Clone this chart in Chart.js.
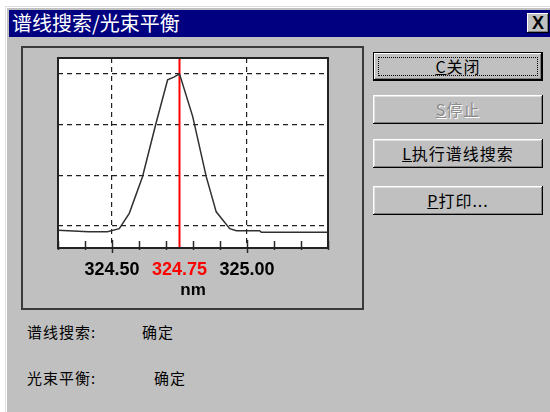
<!DOCTYPE html>
<html><head><meta charset="utf-8">
<script src="https://cdn.jsdelivr.net/npm/chart.js@4"></script>
<style>
html,body{margin:0;padding:0;background:#fff;width:550px;height:412px;overflow:hidden;font-family:"Noto Sans CJK SC","Noto Sans",sans-serif;}
.abs{position:absolute;}
#dlg{left:5px;top:6px;width:560px;height:420px;background:#c0c0c0;box-shadow:inset 1px 1px #dfdfdf, inset 2px 2px #ffffff;}
#title{left:9px;top:10px;width:560px;height:27px;background:#000080;color:#fff;font-size:20px;line-height:26px;padding-left:3px;box-sizing:border-box;}
#close{left:527px;top:13px;width:22px;height:20px;background:#c0c0c0;box-shadow:inset -1px -1px #000, inset 1px 1px #fff, inset -2px -2px #808080;font:bold 18px "Liberation Sans",sans-serif;text-align:center;line-height:20px;color:#000;}
#group{left:21px;top:46px;width:343px;height:264px;box-sizing:border-box;border:2px solid #3a3a3a;}
.btn{left:373px;width:170px;height:29px;box-sizing:border-box;background:#c0c0c0;box-shadow:inset -1px -1px #000, inset 1px 1px #fff, inset -2px -2px #808080, inset 2px 2px #dfdfdf;font-size:16px;letter-spacing:1px;text-align:center;line-height:29px;color:#000;}
.btn u{text-decoration:underline;}
#b1{top:52px;border:1px solid #000;box-shadow:inset -1px -1px #000, inset 1px 1px #fff, inset -2px -2px #808080;line-height:26px;}
#b1 .focus{position:absolute;left:4px;top:4px;right:4px;bottom:4px;border:1px dotted #000;}
#b2{top:95px;color:#8a8a8a;text-shadow:1px 1px #fff;}
#b3{top:139px;}
#b4{top:186px;}
.lbl{font-size:15px;letter-spacing:1px;color:#000;line-height:20px;}
canvas{position:absolute;left:0;top:0;}
</style></head>
<body>
<div id="dlg" class="abs"></div>
<div id="title" class="abs">谱线搜索/光束平衡</div>
<div id="close" class="abs">X</div>
<div id="group" class="abs"></div>
<div id="b1" class="abs btn"><span class="focus"></span><u>C</u>关闭</div>
<div id="b2" class="abs btn"><u>S</u>停止</div>
<div id="b3" class="abs btn"><u>L</u>执行谱线搜索</div>
<div id="b4" class="abs btn"><u>P</u>打印...</div>
<div class="abs lbl" style="left:27px;top:322px;">谱线搜索:</div>
<div class="abs lbl" style="left:142px;top:322px;">确定</div>
<div class="abs lbl" style="left:27px;top:368px;">光束平衡:</div>
<div class="abs lbl" style="left:154px;top:368px;">确定</div>
<canvas id="c" width="550" height="412"></canvas>
<script>
const wavelengthsNm = [324.300, 324.413, 324.483, 324.527, 324.564, 324.613, 324.663, 324.706, 324.731, 324.750, 324.799, 324.849, 324.886, 324.936, 324.961, 325.047, 325.053, 325.300];
const signalValues  = [-0.08, -0.11, -0.11, -0.05, 0.25, 0.97, 2.02, 2.87, 2.93, 2.99, 2.15, 0.97, 0.28, -0.05, -0.09, -0.09, -0.12, -0.12];
const xTickLabels = [324.50, 324.75, 325.00];
const minorTickValues = [324.3, 324.4, 324.5, 324.6, 324.7, 324.8, 324.9, 325.0, 325.1, 325.2, 325.3];
const majorTickValues = [324.5, 325.0];
const yGridValues = [0, 1, 2, 3];
const markerNm = 324.75;
const xMin = 324.30, xMax = 325.30, yMin = -0.43, yMax = 3.30;

const curve = wavelengthsNm.map((x, i) => ({x, y: signalValues[i]}));
const marker = [{x: markerNm, y: yMin}, {x: markerNm, y: yMax}];

const plotDeco = {
  id: 'plotDeco',
  beforeDraw(chart) {
    const {ctx, chartArea: a} = chart;
    ctx.save();
    ctx.fillStyle = '#ffffff';
    ctx.fillRect(a.left, a.top, a.right - a.left, a.bottom - a.top);
    ctx.restore();
  },
  afterDraw(chart) {
    const {ctx, chartArea: a} = chart;
    const xs = chart.scales.x;
    ctx.save();
    ctx.strokeStyle = '#2a2a2a';
    ctx.lineWidth = 1.5;
    minorTickValues.forEach(v => {
      const px = Math.round(xs.getPixelForValue(v)) + 0.5;
      const major = majorTickValues.some(m => Math.abs(m - v) < 1e-6);
      ctx.beginPath();
      ctx.moveTo(px, a.bottom - (major ? 8 : 7));
      ctx.lineTo(px, a.bottom + (major ? 5 : 2));
      ctx.stroke();
    });
    ctx.lineWidth = 2;
    ctx.strokeStyle = '#222222';
    ctx.strokeRect(a.left, a.top, a.right - a.left, a.bottom - a.top);
    ctx.restore();
  }
};

new Chart(document.getElementById('c'), {
  type: 'line',
  data: {
    datasets: [
      {data: curve, borderColor: '#303030', borderWidth: 1.5, pointRadius: 0, tension: 0, fill: false},
      {data: marker, borderColor: '#ff0000', borderWidth: 2, pointRadius: 0, fill: false}
    ]
  },
  options: {
    responsive: false,
    animation: false,
    events: [],
    layout: {padding: {left: 58, top: 58, right: 222, bottom: 111}},
    plugins: {legend: {display: false}, tooltip: {enabled: false}},
    scales: {
      x: {
        type: 'linear', min: xMin, max: xMax,
        afterBuildTicks: s => { s.ticks = xTickLabels.map(v => ({value: v})); },
        afterFit: s => { s.height = 53; },
        grid: {
          drawTicks: false,
          color: c => (c.tick && Math.abs(c.tick.value - markerNm) < 1e-6) ? 'rgba(0,0,0,0)' : '#202020',
          lineWidth: 1.2
        },
        border: {display: false, dash: [5, 4]},
        ticks: {
          padding: 11,
          maxRotation: 0,
          autoSkip: false,
          font: {family: 'Liberation Sans', size: 18, weight: 'bold'},
          color: c => (Math.abs(c.tick.value - markerNm) < 1e-6) ? '#ff0000' : '#000000',
          callback: v => Number(v).toFixed(2)
        },
        title: {display: true, text: 'nm', color: '#000', font: {family: 'Liberation Sans', size: 17, weight: 'bold'}, padding: {top: 0, bottom: 0}}
      },
      y: {
        type: 'linear', min: yMin, max: yMax,
        afterBuildTicks: s => { s.ticks = yGridValues.map(v => ({value: v})); },
        afterFit: s => { s.width = 0; },
        grid: {drawTicks: false, color: '#202020', lineWidth: 1.2},
        border: {display: false, dash: [5, 4]},
        ticks: {display: false}
      }
    }
  },
  plugins: [plotDeco]
});
</script>
</body></html>
